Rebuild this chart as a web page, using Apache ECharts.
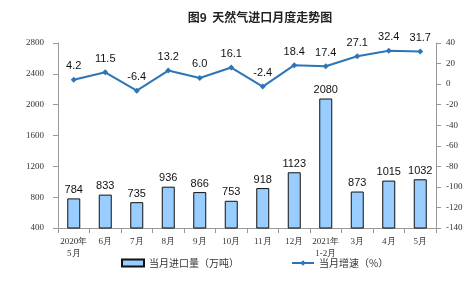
<!DOCTYPE html>
<html><head><meta charset="utf-8">
<script src="https://cdn.jsdelivr.net/npm/echarts@6/dist/echarts.min.js"></script>
<style>html,body{margin:0;padding:0;background:#fff}#c{width:476px;height:285px}</style>
</head><body><div id="c"></div>
<script>
var categories = ['2020年\n5月','6月','7月','8月','9月','10月','11月','12月','2021年\n1-2月','3月','4月','5月'];
var importVolume = [784,833,735,936,866,753,918,1123,2080,873,1015,1032];
var growthRate = [4.2,11.5,-6.4,13.2,6.0,16.1,-2.4,18.4,17.4,27.1,32.4,31.7];
var leftTicks = {min:400,max:2800,interval:400};
var rightTicks = {min:-140,max:40,interval:20};

var chart = echarts.init(document.getElementById('c'));
chart.setOption({
  animation:false,
  title:{text:'图9  天然气进口月度走势图',left:255,textAlign:'center',top:6,
    textStyle:{fontSize:12,fontWeight:'bold',color:'#222',fontFamily:'Noto Sans CJK SC'}},
  grid:{left:58,right:40,top:43,bottom:57},
  legend:{bottom:12,left:116,itemGap:52,itemWidth:22,itemHeight:7,
    textStyle:{fontSize:10,color:'#333',fontFamily:'Noto Sans CJK SC'},
    data:[{name:'当月进口量（万吨）',icon:'rect'},{name:'当月增速（%）'}]},
  xAxis:{type:'category',data:categories,
    axisLine:{onZero:false,lineStyle:{color:'#999'}},axisTick:{show:true,lineStyle:{color:'#999'}},
    axisLabel:{fontSize:9,color:'#333',fontFamily:'Liberation Serif',lineHeight:12,interval:0}},
  yAxis:[
    {type:'value',min:leftTicks.min,max:leftTicks.max,interval:leftTicks.interval,
     splitLine:{show:false},axisLine:{show:true,lineStyle:{color:'#999'}},axisTick:{show:true,lineStyle:{color:'#999'}},
     axisLabel:{fontSize:9,color:'#333',fontFamily:'Liberation Serif',margin:14,formatter:function(v){return String(v);}}},
    {type:'value',min:rightTicks.min,max:rightTicks.max,interval:rightTicks.interval,
     splitLine:{show:false},axisLine:{show:true,lineStyle:{color:'#999'}},axisTick:{show:true,lineStyle:{color:'#999'}},
     axisLabel:{fontSize:9,color:'#333',fontFamily:'Liberation Serif',margin:10,formatter:function(v){return String(v);}}}
  ],
  series:[
    {name:'当月进口量（万吨）',type:'bar',data:importVolume,barWidth:13,yAxisIndex:0,
     itemStyle:{color:'#99ccff',borderColor:'#111',borderWidth:1},
     label:{show:true,position:'top',fontSize:11,color:'#111',fontFamily:'Liberation Sans',distance:3}},
    {name:'当月增速（%）',type:'line',data:growthRate,yAxisIndex:1,symbol:'diamond',symbolSize:6,
     lineStyle:{color:'#2e75b6',width:2},itemStyle:{color:'#2e75b6'},
     label:{show:true,position:'top',fontSize:11,color:'#111',fontFamily:'Liberation Sans',distance:5,
       formatter:function(p){return p.value.toFixed(1);}}}
  ]
});
</script></body></html>
